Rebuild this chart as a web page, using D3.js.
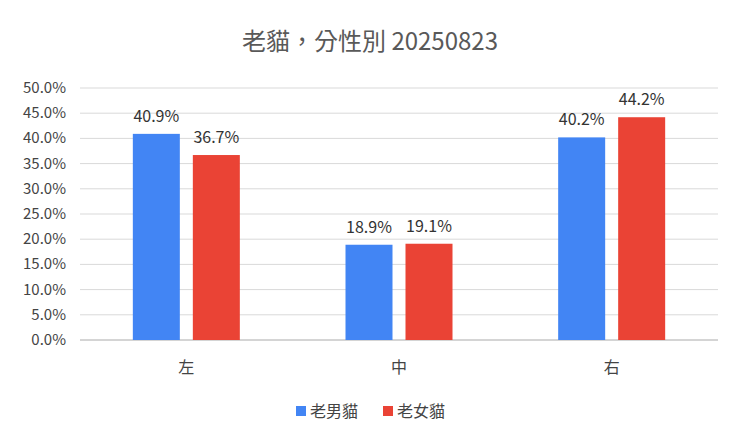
<!DOCTYPE html>
<html><head><meta charset="utf-8">
<script src="https://cdn.jsdelivr.net/npm/d3@7"></script>
<style>body{margin:0;background:#fff}text{font-family:"Noto Sans CJK TC",Roboto,sans-serif}</style>
</head><body>
<svg id="c" width="740" height="440"></svg>
<script>
const categories=["左","中","右"];
const seriesNames=["老男貓","老女貓"];
const maleValues=[40.9,18.9,40.2];
const femaleValues=[36.7,19.1,44.2];
const colors=["#4285f4","#ea4335"];
const yTicks=[0,5,10,15,20,25,30,35,40,45,50];

const svg=d3.select("#c");
const L=80,R=718,T=88,B=340;
const x=d3.scaleBand().domain(categories).range([L,R]);
const y=d3.scaleLinear().domain([0,50]).range([B,T]);

svg.append("text").attr("x",370).attr("y",50).attr("text-anchor","middle")
 .attr("font-size",24).attr("fill","#595959").text("老貓，分性別 20250823");

svg.selectAll(".g").data(yTicks).join("line")
 .attr("x1",L).attr("x2",R).attr("y1",d=>y(d)).attr("y2",d=>y(d))
 .attr("stroke",d=>d===0?"#aaa":"#d9d9d9");
svg.selectAll(".yl").data(yTicks).join("text")
 .attr("x",66).attr("y",d=>y(d)+5).attr("text-anchor","end")
 .attr("font-size",15).attr("fill","#444").text(d=>d.toFixed(1)+"%");

const bw=47,gap=13;
const data=[maleValues,femaleValues];
data.forEach((vals,si)=>{
  const off=si===0?-(gap/2+bw):gap/2;
  const g=svg.append("g");
  g.selectAll("rect").data(vals).join("rect")
   .attr("x",(d,i)=>x(categories[i])+x.bandwidth()/2+off)
   .attr("y",d=>y(d)).attr("width",bw).attr("height",d=>B-y(d)).attr("fill",colors[si]);
  g.selectAll("text").data(vals).join("text")
   .attr("x",(d,i)=>x(categories[i])+x.bandwidth()/2+off+bw/2)
   .attr("y",d=>y(d)-12).attr("text-anchor","middle").attr("font-size",16).attr("fill","#333")
   .text(d=>d.toFixed(1)+"%");
});

svg.selectAll(".xl").data(categories).join("text")
 .attr("x",d=>x(d)+x.bandwidth()/2).attr("y",373).attr("text-anchor","middle")
 .attr("font-size",16).attr("fill","#444").text(d=>d);

const lg=svg.append("g");
const lx=[296,383];
seriesNames.forEach((n,i)=>{
  lg.append("rect").attr("x",lx[i]).attr("y",406).attr("width",10).attr("height",10).attr("fill",colors[i]);
  lg.append("text").attr("x",lx[i]+14).attr("y",417).attr("font-size",16).attr("fill","#444").text(n);
});
</script></body></html>
